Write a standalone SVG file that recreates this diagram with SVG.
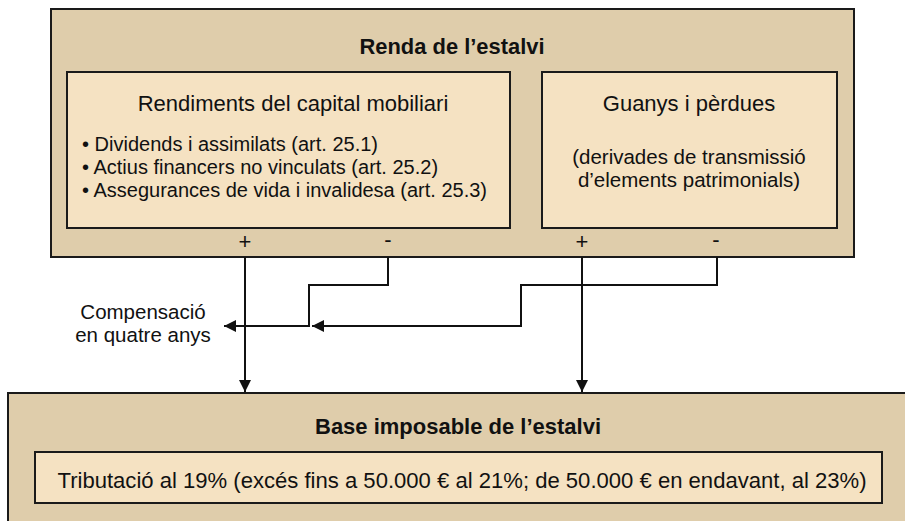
<svg xmlns="http://www.w3.org/2000/svg" width="905" height="521" viewBox="0 0 905 521">
<style>
.outer{fill:#dfcdab;stroke:#1a1a1a;stroke-width:2}
.inner{fill:#f5e2c2;stroke:#1a1a1a;stroke-width:2}
text{font-family:"Liberation Sans",Arial,sans-serif;fill:#111}
.title{font-weight:bold;font-size:22px;text-anchor:middle}
.h{font-size:22px;text-anchor:middle}
.t{font-size:20px}
.c{font-size:20.5px;text-anchor:middle}
.conn{fill:none;stroke:#111;stroke-width:2}
</style>
<defs>
<marker id="ah" viewBox="0 0 10 10" refX="10" refY="5" markerWidth="6" markerHeight="6" markerUnits="strokeWidth" orient="auto">
<path d="M0,0 L10,5 L0,10 z" fill="#111"/>
</marker>
</defs>
<g id="renda">
<rect class="outer" x="51" y="9" width="803" height="248"/>
<text class="title" x="452" y="54" textLength="185" lengthAdjust="spacingAndGlyphs">Renda de l’estalvi</text>
<text class="h" x="245" y="249">+</text>
<text class="h" x="388" y="247">-</text>
<text class="h" x="582" y="249">+</text>
<text class="h" x="716" y="247">-</text>
</g>
<g id="rendiments">
<rect class="inner" x="67" y="72" width="443" height="156"/>
<text class="h" x="293" y="111">Rendiments del capital mobiliari</text>
<text class="t" x="82" y="151">• Dividends i assimilats (art. 25.1)</text>
<text class="t" x="82" y="174">• Actius financers no vinculats (art. 25.2)</text>
<text class="t" x="82" y="197">• Assegurances de vida i invalidesa (art. 25.3)</text>
</g>
<g id="guanys">
<rect class="inner" x="542" y="72" width="295" height="156"/>
<text class="h" x="689" y="111">Guanys i pèrdues</text>
<text class="c" x="689" y="164">(derivades de transmissió</text>
<text class="c" x="689" y="187">d’elements patrimonials)</text>
</g>
<g id="compensacio">
<text class="c" x="143" y="319">Compensació</text>
<text class="c" x="143" y="342">en quatre anys</text>
</g>
<g id="base">
<rect class="outer" x="8" y="393" width="910" height="140"/>
<text class="title" x="458" y="434" textLength="286" lengthAdjust="spacingAndGlyphs">Base imposable de l’estalvi</text>
<rect class="inner" x="35" y="452" width="847" height="51"/>
<text class="h" x="462" y="488" textLength="809" lengthAdjust="spacingAndGlyphs">Tributació al 19% (excés fins a 50.000 € al 21%; de 50.000 € en endavant, al 23%)</text>
</g>
<g id="connectors">
<path class="conn" d="M245,257 V392" marker-end="url(#ah)"/>
<path class="conn" d="M582,257 V392" marker-end="url(#ah)"/>
<path class="conn" d="M388,257 V285 H309 V326 H224" marker-end="url(#ah)"/>
<path class="conn" d="M717,257 V285 H521 V326 H312" marker-end="url(#ah)"/>
</g>
</svg>
